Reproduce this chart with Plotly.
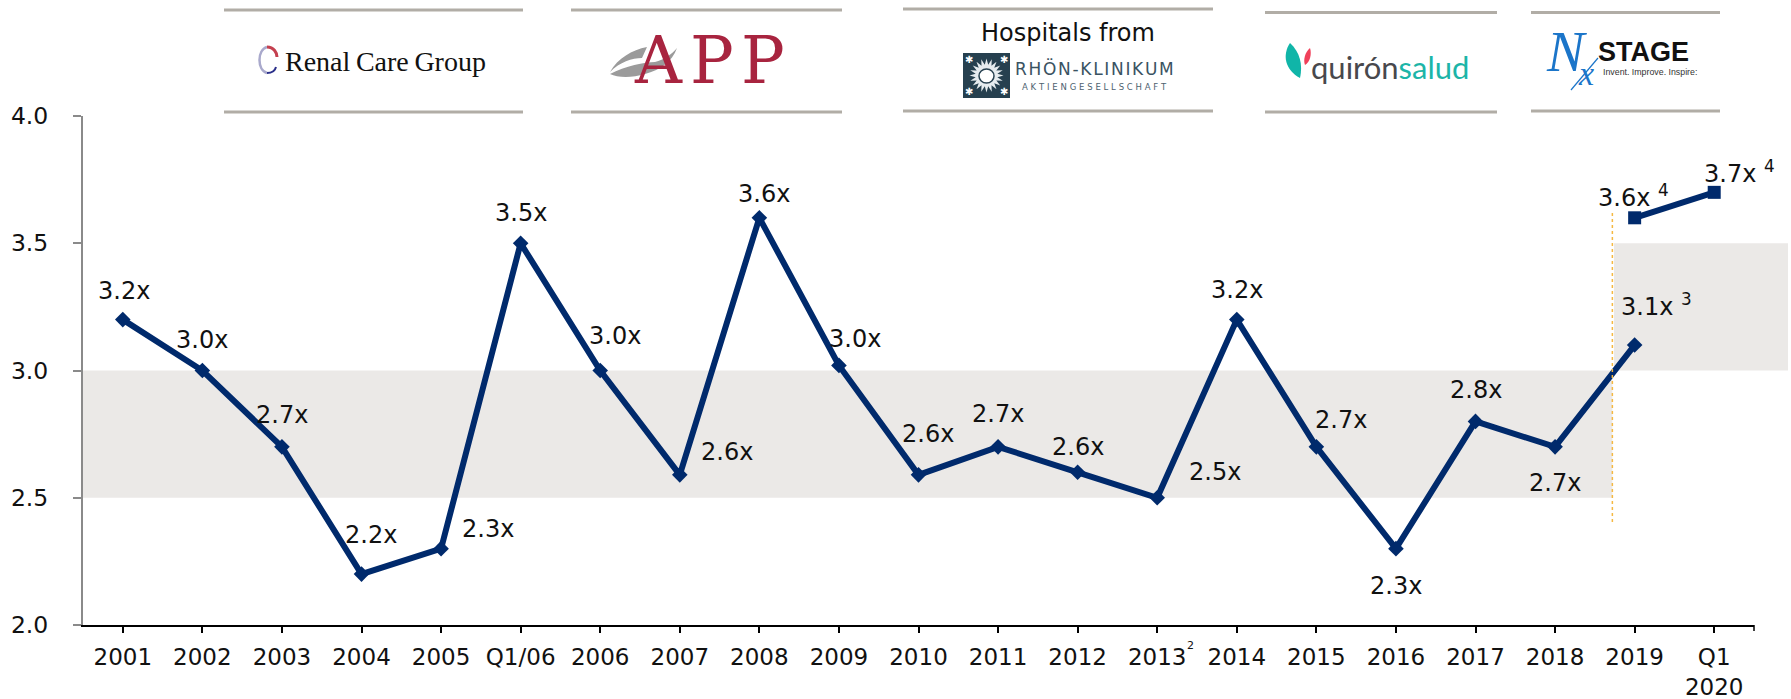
import math
import plotly.graph_objects as go

# ---------- data ----------
categories = ["2001","2002","2003","2004","2005","Q1/06","2006","2007","2008","2009","2010",
              "2011","2012","2013","2014","2015","2016","2017","2018","2019","Q1<br>2020"]
leverage = [3.2,3.0,2.7,2.2,2.3,3.5,3.0,2.59,3.6,3.02,2.59,2.7,2.6,2.5,3.2,2.7,2.3,2.8,2.7,3.1]
leverage_labels = ["3.2x","3.0x","2.7x","2.2x","2.3x","3.5x","3.0x","2.6x","3.6x","3.0x","2.6x",
                   "2.7x","2.6x","2.5x","3.2x","2.7x","2.3x","2.8x","2.7x"]
pro_forma_positions = [19, 20]
pro_forma = [3.6, 3.7]
y_ticks = [2.0, 2.5, 3.0, 3.5, 4.0]

# label offsets from their point, pixels (dx, dy; dy positive = down)
label_offsets = [(1,-29),(0,-31),(0,-32),(9,-39),(47,-20),(0,-30),(15,-35),(47,-23),(5,-24),(16,-26),
                 (9,-41),(0,-33),(0,-25),(58,-26),(0,-30),(25,-27),(0,37),(0,-31),(0,36)]

# ---------- layout frame ----------
W, H = 1791, 699
L, R, T, B = 83, 1754, 116, 625
NAVY = "#002a6c"
BAND = "#ebe9e7"
RULE = "#b1ada6"
TXT = "#111111"
FONT = "DejaVu Sans"
LABEL_SIZE = 24

def px(x): return (x - L) / (R - L)
def py(y): return (B - y) / (B - T)

fig = go.Figure()
fig.add_trace(go.Scatter(x=list(range(len(leverage))), y=leverage, mode="lines+markers",
                         line=dict(color=NAVY, width=6),
                         marker=dict(symbol="diamond", size=12, color=NAVY),
                         cliponaxis=False, showlegend=False))
fig.add_trace(go.Scatter(x=pro_forma_positions, y=pro_forma, mode="lines+markers",
                         line=dict(color=NAVY, width=6),
                         marker=dict(symbol="square", size=13, color=NAVY),
                         cliponaxis=False, showlegend=False))

shapes, notes = [], []

def note(text, x, y, size, color=TXT, family=FONT, anchor="center", **kw):
    font = dict(size=size, color=color, family=family)
    for k in ("weight", "style"):
        if k in kw:
            font[k] = kw.pop(k)
    notes.append(dict(text=text, xref="paper", yref="paper", x=px(x), y=py(y), showarrow=False,
                      xanchor=anchor, yanchor="middle", font=font, borderpad=0, **kw))

def path(points_cmd, fill=None, line=None, lw=0):
    s = ""
    for cmd, c in points_cmd:
        s += cmd
        if c:
            s += " ".join(f"{px(c[i]):.5f},{py(c[i+1]):.5f}" for i in range(0, len(c), 2)) + " "
    d = dict(type="path", xref="paper", yref="paper", path=s, layer="above",
             line=dict(width=lw, color=line or "rgba(0,0,0,0)"))
    if fill:
        d["fillcolor"] = fill
    shapes.append(d)

# ---------- shaded ranges ----------
shapes.append(dict(type="rect", xref="x", yref="y", x0=-0.5, x1=18.72, y0=2.5, y1=3.0,
                   fillcolor=BAND, line=dict(width=0), layer="below"))
shapes.append(dict(type="rect", xref="paper", yref="y", x0=px(1614), x1=px(1788), y0=3.0, y1=3.5,
                   fillcolor=BAND, line=dict(width=0), layer="below"))
shapes.append(dict(type="line", xref="x", yref="paper", x0=18.72, x1=18.72, y0=py(522), y1=py(213),
                   line=dict(color="#f5b942", width=1.5, dash="dot"), layer="above"))
# closing tick at the right end of the category axis
shapes.append(dict(type="line", xref="paper", yref="paper", x0=1, x1=1, y0=py(B), y1=py(B + 6),
                   line=dict(color="#000000", width=1.5), layer="above"))

# ---------- point labels ----------
for i, (lab, (dx, dy)) in enumerate(zip(leverage_labels, label_offsets)):
    notes.append(dict(text=lab, x=i, y=leverage[i], xref="x", yref="y", showarrow=False,
                      xshift=dx, yshift=-dy, font=dict(size=LABEL_SIZE, color=TXT, family=FONT)))
for txt, xv, yv, dx, dy in [("3.1x <sup>3</sup>", 19, 3.1, -16, -40),
                            ("3.6x <sup>4</sup>", 19, 3.6, -39, -22),
                            ("3.7x <sup>4</sup>", 20, 3.7, -12, -20)]:
    notes.append(dict(text=txt, x=xv, y=yv, xref="x", yref="y", showarrow=False, xanchor="left",
                      xshift=dx, yshift=-dy, font=dict(size=LABEL_SIZE, color=TXT, family=FONT)))
# footnote mark on the 2013 tick
notes.append(dict(text="2", x=13, y=0, xref="x", yref="paper", showarrow=False, xshift=33, yshift=-29,
                  font=dict(size=11, color=TXT, family=FONT)))

# ---------- logo panels ----------
for x0, x1, y0, y1 in [(224,523,10,112),(571,842,10,112),(903,1213,9,111),(1265,1497,12.5,112),(1531,1720,12.5,111)]:
    for yy in (y0, y1):
        shapes.append(dict(type="line", xref="paper", yref="paper", x0=px(x0), x1=px(x1), y0=py(yy), y1=py(yy),
                           line=dict(color=RULE, width=3), layer="above"))

# Renal Care Group
path([("M",[267,47]),("C",[257,50,257,70,267,73])], line="#a9a9cc", lw=2.5)
path([("M",[267,47]),("C",[274,47,277,53,277,57])], line="#c4404f", lw=3)
path([("M",[267,73]),("C",[272,73,275,71,276,67])], line="#2a2f8a", lw=2)
note("Renal\u2009Care\u2009Group", 385, 62, 28, "#111111", "Liberation Serif")

# APP
path([("M",[610,72]),("C",[618,58,632,50,647,47]),("L",[642,58]),("C",[632,58,620,62,610,72]),("Z",[])], fill="#9b9b9b")
path([("M",[610,74]),("C",[625,66,645,62,655,62]),("C",[664,60,672,54,677,48]),("C",[672,62,660,70,645,74]),
      ("C",[632,78,618,78,610,74]),("Z",[])], fill="#9b9b9b")
note("A", 658, 60, 65, "#a8243f", "DejaVu Serif")
note("P", 712, 60, 65, "#a8243f", "DejaVu Serif")
note("P", 763, 60, 65, "#a8243f", "DejaVu Serif")

# Rhön-Klinikum
note("Hospitals from", 1068, 33, 24, TXT, FONT)
shapes.append(dict(type="rect", xref="paper", yref="paper", x0=px(963), x1=px(1010), y0=py(98), y1=py(53),
                   fillcolor="#26404f", line=dict(width=0), layer="above"))
star = []
for k in range(40):
    r = 17 if k % 2 == 0 else 11
    a = math.pi * k / 20
    star.append(("M" if k == 0 else "L", [986.5 + r * math.cos(a), 75.5 + r * math.sin(a)]))
path(star + [("Z", [])], fill="#e6ecef")
shapes.append(dict(type="circle", xref="paper", yref="paper", x0=px(979), x1=px(994), y0=py(83), y1=py(69),
                   fillcolor="#ffffff", line=dict(color="#26404f", width=1.5), layer="above"))
for cx, cy in [(969,59),(1004,59),(969,92),(1004,92)]:
    note("✱", cx, cy, 10, "#ffffff", "DejaVu Sans")
note("R\u200aH\u200aÖ\u200aN\u200a-\u200aK\u200aL\u200aI\u200aN\u200aI\u200aK\u200aU\u200aM", 1094.5, 68, 17, "#3a5362", "DejaVu Sans")
note("A\u2004K\u2004T\u2004I\u2004E\u2004N\u2004G\u2004E\u2004S\u2004E\u2004L\u2004L\u2004S\u2004C\u2004H\u2004A\u2004F\u2004T", 1094.5, 87, 8.5, "#4d6270", "DejaVu Sans")

# Quirónsalud
path([("M",[1290,43]),("C",[1282,55,1285,70,1300,78]),("C",[1303,65,1300,52,1290,43]),("Z",[])], fill="#10b5a8")
path([("M",[1310,48]),("C",[1305,52,1303,60,1305,65]),("C",[1310,62,1312,54,1310,48]),("Z",[])], fill="#f0405a")
note('<span style="color:#48484c">quirón</span><span style="color:#1cb5a8">salud</span>',
     1390, 67, 31, "#48484c", "Lato", weight=400)

# NxStage
path([("M",[1571,90]),("L",[1598,58])], line="#1b75c9", lw=1.2)
note("N", 1566, 52, 56, "#1b75c9", "Liberation Serif", style="italic")
note("x", 1586, 74, 34, "#1b75c9", "Liberation Serif", style="italic")
note("STAGE", 1597, 52, 27, "#111111", "Liberation Sans", anchor="left", weight=700)
note("Invent. Improve. Inspire:", 1602, 72, 8.8, "#333333", "Liberation Sans", anchor="left")

fig.update_layout(
    width=W, height=H, autosize=False,
    margin=dict(l=L, r=W - R, t=T, b=H - B, pad=0, autoexpand=False),
    paper_bgcolor="#ffffff", plot_bgcolor="rgba(0,0,0,0)",
    showlegend=False, shapes=shapes, annotations=notes,
    font=dict(family=FONT, color=TXT),
    xaxis=dict(range=[-0.5, 20.5], tickmode="array", automargin=False,
               tickvals=list(range(len(categories))), ticktext=categories,
               ticks="outside", ticklen=6, tickwidth=1.5, tickcolor="#000000",
               showline=True, linecolor="#000000", linewidth=2, showgrid=False, zeroline=False,
               tickangle=0, ticklabelstandoff=4, tickfont=dict(size=23, color=TXT, family=FONT)),
    yaxis=dict(range=[2.0, 4.0], tickmode="array", tickvals=y_ticks, automargin=False,
               ticktext=[f"{v:.1f}" for v in y_ticks],
               ticks="outside", ticklen=8, tickwidth=2, tickcolor="#8a8a8a",
               showline=True, linecolor="#8a8a8a", linewidth=2, showgrid=False, zeroline=False,
               ticklabelstandoff=20, tickfont=dict(size=23.5, color=TXT, family=FONT)),
)
fig.write_html("out.html", post_script="document.body.style.margin='0';",
               config={"displayModeBar": False})
